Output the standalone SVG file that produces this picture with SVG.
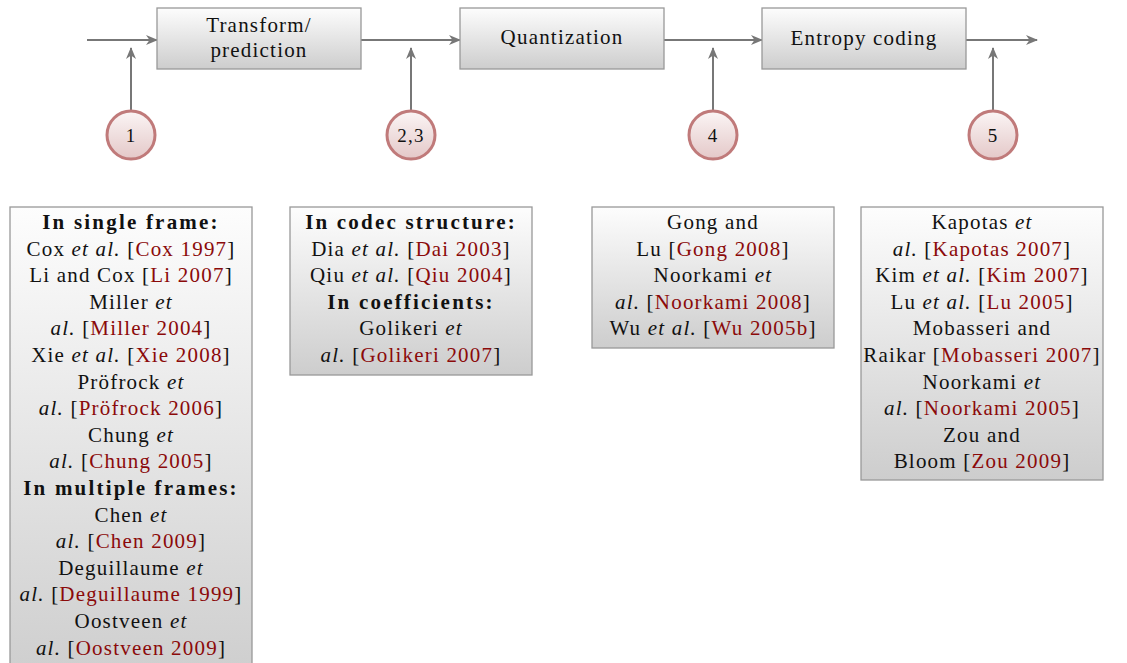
<svg xmlns="http://www.w3.org/2000/svg" width="1127" height="663" viewBox="0 0 1127 663">
  <defs>
    <linearGradient id="boxFill" x1="0" y1="0" x2="0" y2="1">
      <stop offset="0" stop-color="#fdfdfd"/>
      <stop offset="1" stop-color="#cdcdcd"/>
    </linearGradient>
    <linearGradient id="dotFill" x1="0" y1="0" x2="0" y2="1">
      <stop offset="0" stop-color="#fbf5f5"/>
      <stop offset="1" stop-color="#e4c8c8"/>
    </linearGradient>
    <marker id="arrow" viewBox="0 0 12 10" markerWidth="12" markerHeight="10" refX="11" refY="5" orient="auto" markerUnits="userSpaceOnUse">
      <path d="M0,0 L12,5 L0,10 L3.5,5 Z" fill="#777"/>
    </marker>
    <style>
      text { font-family: "Liberation Serif", "Times New Roman", serif; font-size: 21px; letter-spacing: 1.2px; fill: #111; text-anchor: middle; }
      .box { fill: url(#boxFill); stroke: #999; stroke-width: 1.3; }
      .dot { fill: url(#dotFill); stroke: #c07a7a; stroke-width: 3; }
      .dot-label { font-size: 19px; }
      .wire { stroke: #777; stroke-width: 2; fill: none; marker-end: url(#arrow); }
      .b { font-weight: bold; letter-spacing: 2.2px; }
      .i { font-style: italic; }
      .r { fill: #8b0a0a; }
    </style>
  </defs>

  <!-- connectors -->
  <g id="connectors">
    <line class="wire" x1="87" y1="40" x2="157" y2="40"/>
    <line class="wire" x1="361" y1="40" x2="460" y2="40"/>
    <line class="wire" x1="664" y1="40" x2="762" y2="40"/>
    <line class="wire" x1="966" y1="40" x2="1037" y2="40"/>
    <line class="wire" x1="131" y1="111" x2="131" y2="48"/>
    <line class="wire" x1="411" y1="111" x2="411" y2="48"/>
    <line class="wire" x1="713" y1="111" x2="713" y2="48"/>
    <line class="wire" x1="993" y1="111" x2="993" y2="48"/>
  </g>

  <!-- processing stages -->
  <g id="transform">
    <rect class="box" x="157" y="8" width="204" height="61"/>
    <text x="259" y="32">Transform/</text>
    <text x="259" y="57">prediction</text>
  </g>
  <g id="quantization">
    <rect class="box" x="460" y="8" width="204" height="61"/>
    <text x="562" y="44">Quantization</text>
  </g>
  <g id="entropy">
    <rect class="box" x="762" y="8" width="204" height="61"/>
    <text x="864" y="45">Entropy coding</text>
  </g>

  <!-- insertion points -->
  <g id="point1">
    <circle class="dot" cx="131" cy="135" r="24"/>
    <text class="dot-label" x="131" y="142">1</text>
  </g>
  <g id="point23">
    <circle class="dot" cx="411" cy="135" r="24"/>
    <text class="dot-label" x="411" y="142">2,3</text>
  </g>
  <g id="point4">
    <circle class="dot" cx="713" cy="135" r="24"/>
    <text class="dot-label" x="713" y="142">4</text>
  </g>
  <g id="point5">
    <circle class="dot" cx="993" cy="135" r="24"/>
    <text class="dot-label" x="993" y="142">5</text>
  </g>

  <!-- reference lists -->
  <g id="refs1">
    <rect class="box" x="10" y="207" width="242" height="480"/>
    <text x="131" y="229"><tspan class="b">In single frame:</tspan></text>
    <text x="131" y="255.6">Cox <tspan class="i">et al.</tspan> [<tspan class="r">Cox 1997</tspan>]</text>
    <text x="131" y="282.2">Li and Cox [<tspan class="r">Li 2007</tspan>]</text>
    <text x="131" y="308.8">Miller <tspan class="i">et</tspan></text>
    <text x="131" y="335.4"><tspan class="i">al.</tspan> [<tspan class="r">Miller 2004</tspan>]</text>
    <text x="131" y="362">Xie <tspan class="i">et al.</tspan> [<tspan class="r">Xie 2008</tspan>]</text>
    <text x="131" y="388.6">Pröfrock <tspan class="i">et</tspan></text>
    <text x="131" y="415.2"><tspan class="i">al.</tspan> [<tspan class="r">Pröfrock 2006</tspan>]</text>
    <text x="131" y="441.8">Chung <tspan class="i">et</tspan></text>
    <text x="131" y="468.4"><tspan class="i">al.</tspan> [<tspan class="r">Chung 2005</tspan>]</text>
    <text x="131" y="495"><tspan class="b">In multiple frames:</tspan></text>
    <text x="131" y="521.6">Chen <tspan class="i">et</tspan></text>
    <text x="131" y="548.2"><tspan class="i">al.</tspan> [<tspan class="r">Chen 2009</tspan>]</text>
    <text x="131" y="574.8">Deguillaume <tspan class="i">et</tspan></text>
    <text x="131" y="601.4"><tspan class="i">al.</tspan> [<tspan class="r">Deguillaume 1999</tspan>]</text>
    <text x="131" y="628">Oostveen <tspan class="i">et</tspan></text>
    <text x="131" y="654.6"><tspan class="i">al.</tspan> [<tspan class="r">Oostveen 2009</tspan>]</text>
  </g>
  <g id="refs23">
    <rect class="box" x="290" y="207" width="242" height="168"/>
    <text x="411" y="229"><tspan class="b">In codec structure:</tspan></text>
    <text x="411" y="255.6">Dia <tspan class="i">et al.</tspan> [<tspan class="r">Dai 2003</tspan>]</text>
    <text x="411" y="282.2">Qiu <tspan class="i">et al.</tspan> [<tspan class="r">Qiu 2004</tspan>]</text>
    <text x="411" y="308.8"><tspan class="b">In coefficients:</tspan></text>
    <text x="411" y="335.4">Golikeri <tspan class="i">et</tspan></text>
    <text x="411" y="362"><tspan class="i">al.</tspan> [<tspan class="r">Golikeri 2007</tspan>]</text>
  </g>
  <g id="refs4">
    <rect class="box" x="592" y="207" width="242" height="141"/>
    <text x="713" y="229">Gong and</text>
    <text x="713" y="255.6">Lu [<tspan class="r">Gong 2008</tspan>]</text>
    <text x="713" y="282.2">Noorkami <tspan class="i">et</tspan></text>
    <text x="713" y="308.8"><tspan class="i">al.</tspan> [<tspan class="r">Noorkami 2008</tspan>]</text>
    <text x="713" y="335.4">Wu <tspan class="i">et al.</tspan> [<tspan class="r">Wu 2005b</tspan>]</text>
  </g>
  <g id="refs5">
    <rect class="box" x="861" y="207" width="242" height="273"/>
    <text x="982" y="229">Kapotas <tspan class="i">et</tspan></text>
    <text x="982" y="255.6"><tspan class="i">al.</tspan> [<tspan class="r">Kapotas 2007</tspan>]</text>
    <text x="982" y="282.2">Kim <tspan class="i">et al.</tspan> [<tspan class="r">Kim 2007</tspan>]</text>
    <text x="982" y="308.8">Lu <tspan class="i">et al.</tspan> [<tspan class="r">Lu 2005</tspan>]</text>
    <text x="982" y="335.4">Mobasseri and</text>
    <text x="982" y="362">Raikar [<tspan class="r">Mobasseri 2007</tspan>]</text>
    <text x="982" y="388.6">Noorkami <tspan class="i">et</tspan></text>
    <text x="982" y="415.2"><tspan class="i">al.</tspan> [<tspan class="r">Noorkami 2005</tspan>]</text>
    <text x="982" y="441.8">Zou and</text>
    <text x="982" y="468.4">Bloom [<tspan class="r">Zou 2009</tspan>]</text>
  </g>
</svg>
